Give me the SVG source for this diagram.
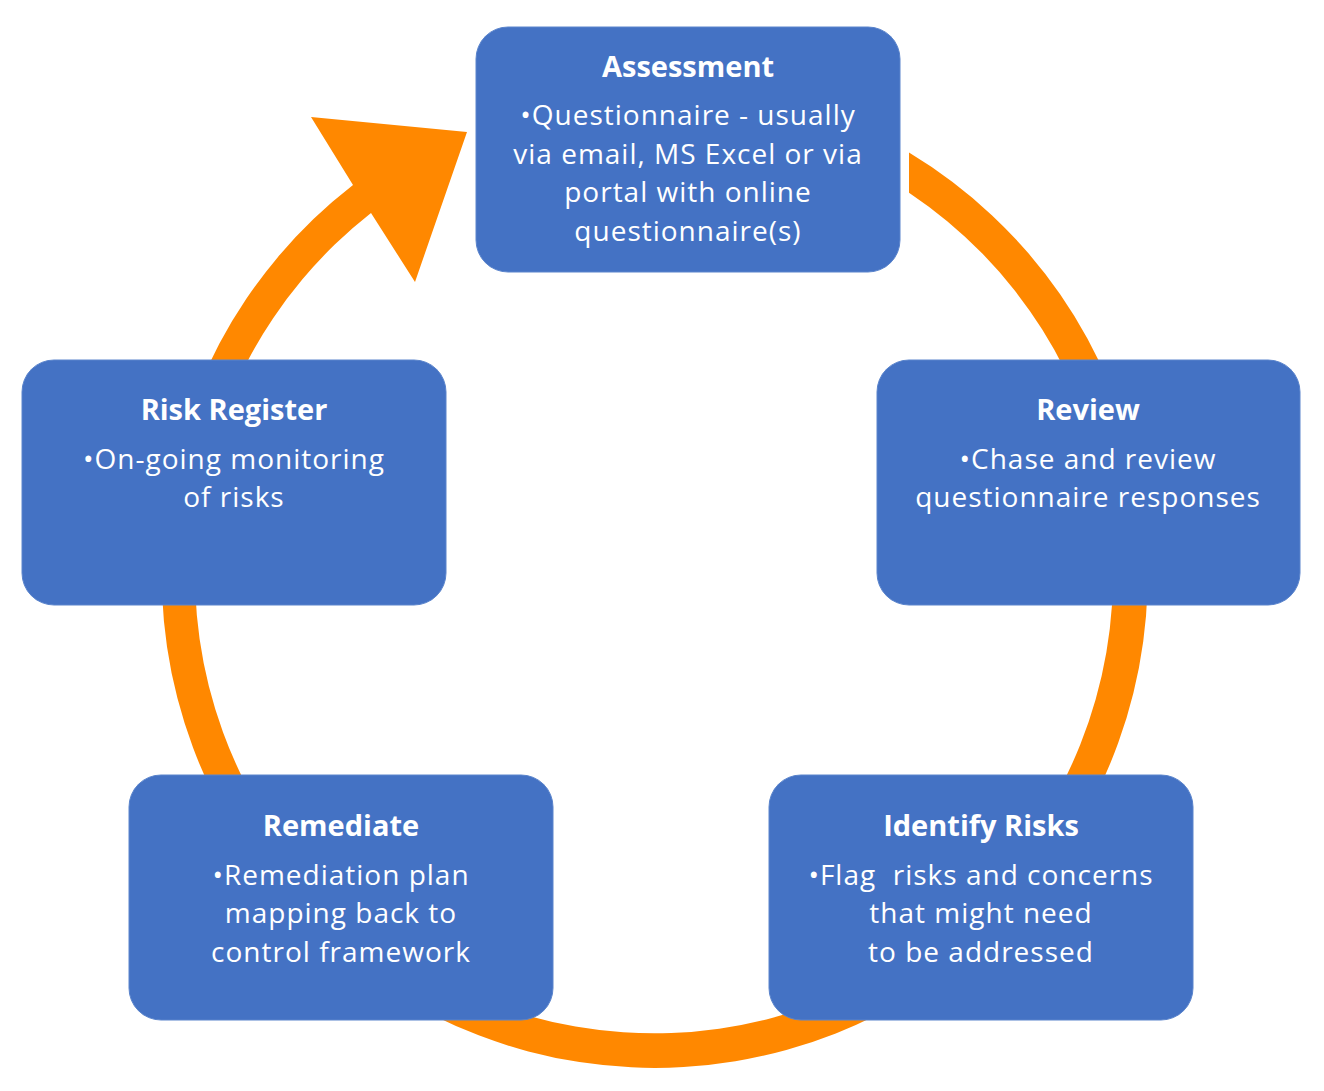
<svg xmlns="http://www.w3.org/2000/svg" width="1324" height="1091" viewBox="0 0 1324 1091">
  <style>
    .box { fill: #4472C4; stroke: #5a84cc; stroke-width: 1; }
    .title { font-family: "Open Sans", "Liberation Sans", sans-serif; font-weight: bold; font-size: 29px; fill: #ffffff; text-anchor: middle; }
    .body { font-family: "Open Sans", "Liberation Sans", sans-serif; font-size: 28px; letter-spacing: 1px; fill: #ffffff; text-anchor: middle; white-space: pre; }
    .ring { fill: #FF8800; }
  </style>
  <rect width="1324" height="1091" fill="#ffffff"/>
  <g id="connectors">
    <path class="ring" d="M 909 152.5 A 493 493 0 1 1 353 185 L 311 117 L 467 132 L 415 282 L 371 213 A 459 459 0 1 0 909 192.7 Z"/>
  </g>
  <g id="assessment">
    <rect class="box" x="476" y="27" width="424" height="245" rx="32"/>
    <text class="title" x="688" y="77">Assessment</text>
    <text class="body" x="688" y="125">•Questionnaire - usually</text>
    <text class="body" x="688" y="163.5">via email, MS Excel or via</text>
    <text class="body" x="688" y="202">portal with online</text>
    <text class="body" x="688" y="240.5">questionnaire(s)</text>
  </g>
  <g id="review">
    <rect class="box" x="877" y="360" width="423" height="245" rx="32"/>
    <text class="title" x="1088" y="420">Review</text>
    <text class="body" x="1088" y="469">•Chase and review</text>
    <text class="body" x="1088" y="507">questionnaire responses</text>
  </g>
  <g id="risk-register">
    <rect class="box" x="22" y="360" width="424" height="245" rx="32"/>
    <text class="title" x="234" y="420">Risk Register</text>
    <text class="body" x="234" y="469">•On-going monitoring</text>
    <text class="body" x="234" y="507">of risks</text>
  </g>
  <g id="remediate">
    <rect class="box" x="129" y="775" width="424" height="245" rx="32"/>
    <text class="title" x="341" y="836">Remediate</text>
    <text class="body" x="341" y="885">•Remediation plan</text>
    <text class="body" x="341" y="923">mapping back to</text>
    <text class="body" x="341" y="962">control framework</text>
  </g>
  <g id="identify-risks">
    <rect class="box" x="769" y="775" width="424" height="245" rx="32"/>
    <text class="title" x="981" y="836">Identify Risks</text>
    <text class="body" x="981" y="885">•Flag  risks and concerns</text>
    <text class="body" x="981" y="923">that might need</text>
    <text class="body" x="981" y="962">to be addressed</text>
  </g>
</svg>
